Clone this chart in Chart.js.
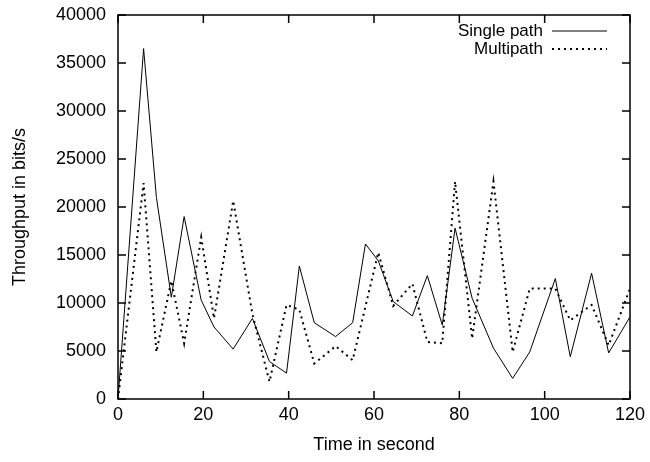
<!DOCTYPE html>
<html>
<head>
<meta charset="utf-8">
<script src="https://cdn.jsdelivr.net/npm/chart.js@4.4.0/dist/chart.umd.min.js"></script>
<style>
  html, body { margin: 0; padding: 0; background: #fff; }
</style>
</head>
<body>
<canvas id="throughputChart" width="650" height="462"></canvas>
<script>
// values (time in s, throughput in bits/s)
const singleTime = [0, 6, 9, 12.5, 15.5, 19.5, 22.5, 27, 31.5, 35.5, 39.5, 42.5, 46, 51, 55, 58, 61, 64.5, 69, 72.5, 76, 79, 83, 88, 92.5, 96.5, 102.5, 106, 111, 115, 120];
const singleValues = [0, 36500, 21000, 10600, 19000, 10300, 7500, 5200, 8400, 3900, 2700, 13850, 7950, 6500, 7950, 16150, 14400, 10150, 8650, 12850, 7700, 17800, 10500, 5300, 2150, 4900, 12550, 4400, 13100, 4800, 8550];
const multiTime = [0, 6, 9, 12.5, 15.5, 19.5, 22.5, 27, 31.5, 35.5, 39.5, 42.5, 46, 51, 55, 61, 64.5, 69, 72.5, 76, 79, 83, 88, 92.5, 96.5, 102.5, 106, 111, 115, 120];
const multiValues = [0, 22500, 4900, 12300, 5800, 16850, 8400, 20650, 8850, 1800, 9800, 9300, 3700, 5500, 4050, 15250, 9700, 12000, 5950, 5800, 22650, 6300, 22650, 4900, 11500, 11500, 8200, 9800, 5600, 11500];

const xTicks = [0, 20, 40, 60, 80, 100, 120];
const yTicks = [0, 5000, 10000, 15000, 20000, 25000, 30000, 35000, 40000];
const seriesNames = ["Single path", "Multipath"];

Chart.defaults.font.family = "'Liberation Sans', Arial, Helvetica, sans-serif";
Chart.defaults.font.size = 18;
Chart.defaults.color = "#000";

// gnuplot style box: frame plus inward ticks on all four sides
const frameTicks = {
  id: "frameTicks",
  afterDatasetsDraw(chart) {
    const { ctx, chartArea: a, scales } = chart;
    const len = 8;
    ctx.save();
    ctx.strokeStyle = "#000";
    ctx.lineWidth = 1.5;
    ctx.strokeRect(a.left, a.top, a.right - a.left, a.bottom - a.top);
    ctx.beginPath();
    xTicks.forEach(v => {
      const px = scales.x.getPixelForValue(v);
      ctx.moveTo(px, a.bottom); ctx.lineTo(px, a.bottom - len);
      ctx.moveTo(px, a.top); ctx.lineTo(px, a.top + len);
    });
    yTicks.forEach(v => {
      const py = scales.y.getPixelForValue(v);
      ctx.moveTo(a.left, py); ctx.lineTo(a.left + len, py);
      ctx.moveTo(a.right, py); ctx.lineTo(a.right - len, py);
    });
    ctx.stroke();
    ctx.restore();
  }
};

// legend in the top right corner: text first, then a line sample
const keyBox = {
  id: "keyBox",
  afterDraw(chart) {
    const { ctx } = chart;
    const textRight = 543, lineStart = 552, lineEnd = 607;
    const rows = [31, 49];
    ctx.save();
    ctx.font = "17px 'Liberation Sans', Arial, sans-serif";
    ctx.fillStyle = "#000";
    ctx.textAlign = "right";
    ctx.textBaseline = "middle";
    chart.data.datasets.forEach((ds, i) => {
      const y = rows[i];
      ctx.fillText(ds.label, textRight, y);
      ctx.beginPath();
      ctx.strokeStyle = ds.borderColor;
      ctx.lineWidth = ds.borderWidth;
      ctx.setLineDash(ds.borderDash || []);
      ctx.moveTo(lineStart, y);
      ctx.lineTo(lineEnd, y);
      ctx.stroke();
    });
    ctx.restore();
  }
};

const ctx = document.getElementById("throughputChart").getContext("2d");
const chart = new Chart(ctx, {
  type: "line",
  data: {
    datasets: [
      {
        label: seriesNames[0],
        data: singleTime.map((t, i) => ({ x: t, y: singleValues[i] })),
        borderColor: "#000",
        borderWidth: 1,
        pointRadius: 0,
        tension: 0,
        fill: false,
      },
      {
        label: seriesNames[1],
        data: multiTime.map((t, i) => ({ x: t, y: multiValues[i] })),
        borderColor: "#000",
        borderWidth: 2,
        borderDash: [2, 4],
        pointRadius: 0,
        tension: 0,
        fill: false,
      },
    ],
  },
  options: {
    responsive: false,
    animation: false,
    layout: { padding: { left: 0, top: 15, right: 20, bottom: 0 } },
    plugins: { legend: { display: false }, tooltip: { enabled: false } },
    scales: {
      x: {
        type: "linear",
        min: 0,
        max: 120,
        afterBuildTicks: s => { s.ticks = xTicks.map(v => ({ value: v })); },
        afterFit: s => { s.height = 63; s.paddingLeft = 0; s.paddingRight = 0; },
        grid: { display: false, drawTicks: false },
        border: { display: false },
        ticks: { padding: 5, maxRotation: 0 },
        title: { display: true, text: "Time in second", padding: { top: 0, bottom: 6 } },
      },
      y: {
        type: "linear",
        min: 0,
        max: 40000,
        afterBuildTicks: s => { s.ticks = yTicks.map(v => ({ value: v })); },
        afterFit: s => { s.width = 118; s.paddingTop = 0; s.paddingBottom = 0; },
        grid: { display: false, drawTicks: false },
        border: { display: false },
        ticks: { padding: 12, callback: v => String(v) },
        title: { display: true, text: "Throughput in bits/s", padding: { top: 9, bottom: 0 } },
      },
    },
  },
  plugins: [frameTicks, keyBox],
});
</script>
</body>
</html>
